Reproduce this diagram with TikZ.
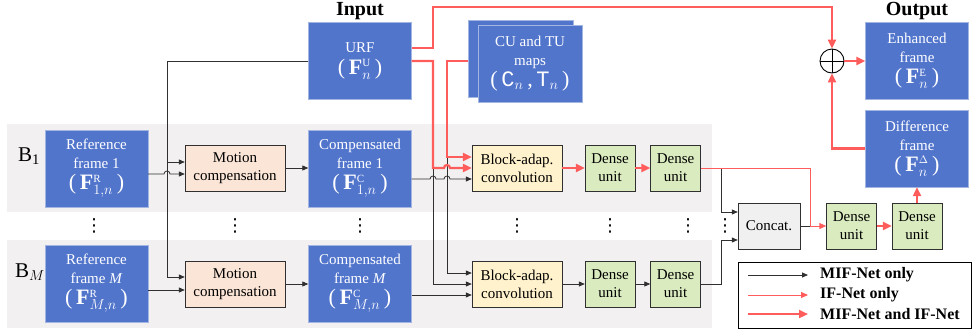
\documentclass[tikz,border=0pt]{standalone}
\usepackage{fontspec}
\setmainfont{Liberation Serif}
\setmonofont{Liberation Mono}
\newfontfamily\dotfont{DejaVu Sans}
\usetikzlibrary{arrows.meta,calc}
\definecolor{vblue}{HTML}{5275CC}
\definecolor{vblueedge}{HTML}{A3B6E2}
\definecolor{vband}{HTML}{F2F0F0}
\definecolor{vpeach}{HTML}{FBE5D6}
\definecolor{vyellow}{HTML}{FFF2CC}
\definecolor{vgreen}{HTML}{DAEBBF}
\definecolor{vcat}{HTML}{F0F0F0}
\definecolor{vred}{HTML}{FF5C5C}
\definecolor{vline}{HTML}{303030}

\newcommand{\frmsym}[3]{{\fontsize{22}{22}\selectfont(\,#1$^{\scriptscriptstyle #2}_{\scriptstyle #3}$\,)}}

\tikzset{
	bluebox/.style = {draw = vblueedge, fill = vblue, text = white, minimum width = 103pt, minimum height = 77pt, align = center, inner sep = 1pt, font = \fontsize{15}{19}\selectfont},
	stagebox/.style = {draw = vline, minimum height = 46pt, align = center, inner sep = 1pt, font = \fontsize{15}{18}\selectfont},
	mcbox/.style = {stagebox, fill = vpeach, minimum width = 100pt},
	bacbox/.style = {stagebox, fill = vyellow, minimum width = 90pt},
	densebox/.style = {stagebox, fill = vgreen, minimum width = 50pt},
	catbox/.style = {stagebox, fill = vcat, minimum width = 62pt},
	mif/.style = {draw = vline, line width = 0.8pt, -{Triangle[length = 6pt, width = 5pt]}},
	mifplain/.style = {draw = vline, line width = 0.8pt},
	ifonly/.style = {draw = vred, line width = 0.9pt, -{Triangle[length = 7pt, width = 6pt]}},
	both/.style = {draw = vred, line width = 2.2pt, -{Triangle[length = 9pt, width = 8pt]}},
	headlbl/.style = {font = \fontsize{20}{20}\selectfont\bfseries},
	branchlbl/.style = {font = \fontsize{21}{21}\selectfont},
	vdot/.style = {font = \fontsize{18}{18}\selectfont\dotfont, inner sep = 0pt},
	legtext/.style = {anchor = west, inner sep = 0pt, font = \fontsize{16}{16}\selectfont\bfseries}
}

\begin{document}
\begin{tikzpicture}[x = 1pt, y = 1pt]
	\useasboundingbox (0,0) rectangle (972,-335);
	% bands
	\fill[vband] (7,-124) rectangle (712,-212);
	\fill[vband] (7,-240) rectangle (712,-328);
	\node[branchlbl] (lbB1) at (29,-156) {B$_{\mathrm{1}}$};
	\node[branchlbl] (lbBM) at (30,-272) {B$_{M}$};
	\node[headlbl] (lbin) at (360,-11) {Input};
	\node[headlbl] (lbout) at (917,-11) {Output};

	% inputs
	\node[bluebox] (urf) at (360,-61) {URF\\[3pt]\frmsym{\textbf{F}}{\mathrm{U}}{n}};
	\node[bluebox, minimum width = 105pt] (cuback) at (520.5,-58.5) {};
	\node[bluebox, minimum width = 104pt] (cutu) at (530,-63.5) {CU and TU\\maps\\[2pt]{\fontsize{22}{22}\selectfont(\,\texttt{C}$_{\scriptstyle n}$\,,\,\texttt{T}$_{\scriptstyle n}$\,)}};

	% branch-1
	\node[bluebox] (ref1) at (96.5,-168.5) {Reference\\frame 1\\[2pt]\frmsym{\textbf{F}}{\mathrm{R}}{1,n}};
	\node[mcbox] (mc1) at (235,-168) {Motion\\compensation};
	\node[bluebox] (comp1) at (360,-168.5) {Compensated\\frame 1\\[2pt]\frmsym{\textbf{F}}{\mathrm{C}}{1,n}};
	\node[bacbox] (bac1) at (517,-168) {Block-adap.\\convolution};
	\node[densebox] (d1a) at (610,-168) {Dense\\unit};
	\node[densebox] (d1b) at (675.5,-168) {Dense\\unit};

	% branch-M
	\node[bluebox] (refM) at (96.5,-283.5) {Reference\\frame \textit{M}\\[2pt]\frmsym{\textbf{F}}{\mathrm{R}}{M,n}};
	\node[mcbox] (mcM) at (235,-284) {Motion\\compensation};
	\node[bluebox] (compM) at (360,-283.5) {Compensated\\frame \textit{M}\\[2pt]\frmsym{\textbf{F}}{\mathrm{C}}{M,n}};
	\node[bacbox] (bacM) at (517,-284) {Block-adap.\\convolution};
	\node[densebox] (dMa) at (610,-284) {Dense\\unit};
	\node[densebox] (dMb) at (675.5,-284) {Dense\\unit};

	% dots
	\node[vdot] (dots1) at (94,-226) {⋮};
	\node[vdot] (dots2) at (235,-226) {⋮};
	\node[vdot] (dots3) at (360,-226) {⋮};
	\node[vdot] (dots4) at (517,-226) {⋮};
	\node[vdot] (dots5) at (610,-226) {⋮};
	\node[vdot] (dots6) at (688,-226) {⋮};
	\node[vdot] (dots7) at (725,-226) {⋮};

	% fusion and outputs
	\node[catbox] (concat) at (769,-226) {Concat.};
	\node[densebox] (doa) at (851.5,-226) {Dense\\unit};
	\node[densebox] (dob) at (917,-226) {Dense\\unit};
	\node[bluebox] (diff) at (917,-148.5) {Difference\\frame\\[2pt]\frmsym{\textbf{F}}{\Delta}{n}};
	\node[bluebox] (enh) at (917,-61) {Enhanced\\frame\\[2pt]\frmsym{\textbf{F}}{\mathrm{E}}{n}};
	\node[circle, draw = black, fill = white, line width = 0.9pt, minimum size = 24pt, inner sep = 0pt] (plus) at (832,-61) {};
	\draw[line width = 0.9pt] (plus.north) -- (plus.south) (plus.west) -- (plus.east);

	% buses and ports
	\coordinate (busR) at (167,-61);
	\coordinate (busU) at (433,-61);
	\coordinate (busC) at (447,-61);
	\coordinate (busD) at (721,-168);
	\coordinate (busO) at (810,-168);
	\coordinate (topY) at (433,-7);
	\coordinate (mc1in1) at ([yshift = 6pt]mc1.west);
	\coordinate (mc1in2) at ([yshift = -6pt]mc1.west);
	\coordinate (mcMin1) at ([yshift = 7pt]mcM.west);
	\coordinate (mcMin2) at ([yshift = -6pt]mcM.west);
	\coordinate (b1in1) at ([yshift = 11pt]bac1.west);
	\coordinate (b1in2) at (bac1.west);
	\coordinate (b1in3) at ([yshift = -11pt]bac1.west);
	\coordinate (bMin1) at ([yshift = 11pt]bacM.west);
	\coordinate (bMin2) at (bacM.west);
	\coordinate (bMin3) at ([yshift = -11pt]bacM.west);
	\coordinate (catin1) at ([yshift = 14pt]concat.west);
	\coordinate (catin2) at ([yshift = -14pt]concat.west);

	% MIF-Net only
	\draw[mif] (urf.west) -- (busR) |- (mcMin1);
	\draw[mif] (busR |- mc1in1) -- (mc1in1);
	\draw[mif] (ref1.east |- mc1in2) -- ($(busR |- mc1in2)+(-3,0)$) arc[start angle = 180, end angle = 0, radius = 3] -- (mc1in2);
	\draw[mif] (refM.east |- mcMin2) -- (mcMin2);
	\draw[mif] (mc1.east) -- (mc1.east -| comp1.west);
	\draw[mif] (mcM.east) -- (mcM.east -| compM.west);
	\draw[mif] (busU |- b1in2) |- (bMin2);
	\draw[mif] (busC |- b1in1) |- (bMin1);
	\draw[mif] (comp1.east |- b1in3) -- ($(busU |- b1in3)+(-3,0)$) arc[start angle = 180, end angle = 0, radius = 3] -- ($(busC |- b1in3)+(-3,0)$) arc[start angle = 180, end angle = 0, radius = 3] -- (b1in3);
	\draw[mif] (compM.east |- bMin3) -- (bMin3);
	\draw[mif] (bacM.east) -- (dMa.west);
	\draw[mif] (dMa.east) -- (dMb.west);
	\draw[mif] (d1b.east) -- (d1b.east -| busD) |- (catin1);
	\draw[mif] (dMb.east) -- (dMb.east -| busD) |- (catin2);
	\draw[mifplain] (concat.east) -- (busO |- concat.east);

	% IF-Net only
	\draw[ifonly] (d1b.east) -| (busO |- doa.west) -- (doa.west);

	% MIF-Net and IF-Net
	\draw[both] ([yshift = 13pt]urf.east) -| (topY) -| (plus.north);
	\draw[both] (urf.east) -- (busU) -- (busU |- b1in2) -- ($(busC |- b1in2)+(-3,0)$) arc[start angle = 180, end angle = 0, radius = 3] -- (b1in2);
	\draw[both] (cuback.west |- urf.east) -| (busC |- b1in1) -- (b1in1);
	\draw[both] (bac1.east) -- (d1a.west);
	\draw[both] (d1a.east) -- (d1b.west);
	\draw[both] (doa.east) -- (dob.west);
	\draw[both] (dob.north) -- (diff.south);
	\draw[both] (diff.west) -| (plus.south);
	\draw[both] (plus.east) -- (enh.west);

	% legend
	\node[draw = black, line width = 0.9pt, minimum width = 233pt, minimum height = 66pt, inner sep = 0pt] (legend) at (854.5,-295) {};
	\node[legtext] (lgmif) at (820,-275) {MIF-Net only};
	\node[legtext] (lgif) at (820,-295) {IF-Net only};
	\node[legtext] (lgboth) at (820,-314) {MIF-Net and IF-Net};
	\coordinate (lgs1) at (748,-275);
	\coordinate (lgs2) at (748,-295);
	\coordinate (lgs3) at (748,-314);
	\draw[mif] (lgs1) -- ([xshift = -12pt]lgmif.west);
	\draw[ifonly] (lgs2) -- ([xshift = -12pt]lgif.west);
	\draw[both] (lgs3) -- ([xshift = -12pt]lgboth.west);
\end{tikzpicture}
\end{document}
